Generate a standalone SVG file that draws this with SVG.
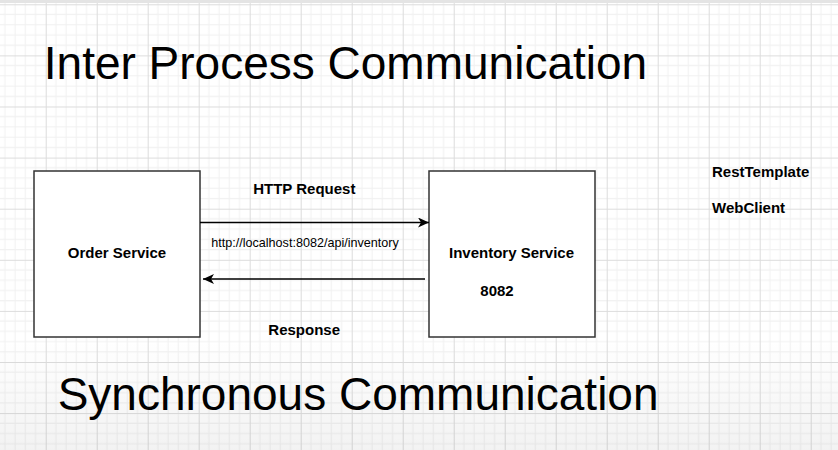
<svg xmlns="http://www.w3.org/2000/svg" width="838" height="450" viewBox="0 0 838 450">
  <defs>
    <pattern id="grid" patternUnits="userSpaceOnUse" x="45.7" y="4.3" width="51" height="51.1">
      <rect width="51" height="51.1" fill="#ffffff"/>
      <g stroke="#f1f1f1" stroke-width="1">
        <line x1="10.2" y1="0" x2="10.2" y2="51.1"/>
        <line x1="20.4" y1="0" x2="20.4" y2="51.1"/>
        <line x1="30.6" y1="0" x2="30.6" y2="51.1"/>
        <line x1="40.8" y1="0" x2="40.8" y2="51.1"/>
        <line x1="0" y1="10.2" x2="51" y2="10.2"/>
        <line x1="0" y1="20.4" x2="51" y2="20.4"/>
        <line x1="0" y1="30.7" x2="51" y2="30.7"/>
        <line x1="0" y1="40.9" x2="51" y2="40.9"/>
      </g>
      <g stroke="#dcdcdc" stroke-width="1">
        <line x1="0.5" y1="0" x2="0.5" y2="51.1"/>
        <line x1="0" y1="0.5" x2="51" y2="0.5"/>
      </g>
    </pattern>
    <linearGradient id="fade" x1="0" y1="0" x2="0" y2="1">
      <stop offset="0" stop-color="#000" stop-opacity="0"/>
      <stop offset="1" stop-color="#000" stop-opacity="0.05"/>
    </linearGradient>
    <marker id="arrow" viewBox="0 0 11 10" refX="11" refY="5" markerWidth="11" markerHeight="10" markerUnits="userSpaceOnUse" orient="auto">
      <path d="M0,0 L11,5 L0,10 L3,5 Z" fill="#000"/>
    </marker>
    <style>
      .title { font-family: "Liberation Sans", Arial, sans-serif; font-size: 46px; fill: #000; }
      .bold { font-family: "Liberation Sans", Arial, sans-serif; font-size: 15px; font-weight: bold; fill: #000; }
      .url { font-family: "Liberation Sans", Arial, sans-serif; font-size: 12.6px; fill: #000; }
      .box { fill: #ffffff; stroke: #333333; stroke-width: 1.5; }
      .conn { stroke: #000; stroke-width: 1.4; fill: none; marker-end: url(#arrow); }
    </style>
  </defs>

  <rect width="838" height="450" fill="url(#grid)"/>
  <rect y="340" width="838" height="110" fill="url(#fade)"/>
  <rect width="838" height="3" fill="#e4e4e4"/>

  <g id="title-top">
    <text class="title" x="43.8" y="79.3">Inter Process Communication</text>
  </g>

  <g id="order-service">
    <rect class="box" x="34" y="171" width="166" height="166"/>
    <text class="bold" x="117" y="257.7" text-anchor="middle">Order Service</text>
  </g>

  <g id="inventory-service">
    <rect class="box" x="429" y="171" width="166" height="166"/>
    <text class="bold" x="511.5" y="257.7" text-anchor="middle">Inventory Service</text>
    <text class="bold" x="497" y="295.7" text-anchor="middle">8082</text>
  </g>

  <g id="connectors">
    <line class="conn" x1="200" y1="222.5" x2="429" y2="222.5"/>
    <line class="conn" x1="425" y1="279" x2="203" y2="279"/>
  </g>

  <g id="labels">
    <text class="bold" x="304.3" y="194" text-anchor="middle">HTTP Request</text>
    <text class="url" x="305" y="247.3" text-anchor="middle">http://localhost:8082/api/inventory</text>
    <text class="bold" x="304.2" y="335" text-anchor="middle">Response</text>
  </g>

  <g id="clients">
    <text class="bold" x="712" y="176.7">RestTemplate</text>
    <text class="bold" x="712" y="212.7">WebClient</text>
  </g>

  <g id="title-bottom">
    <text class="title" x="57.7" y="410">Synchronous Communication</text>
  </g>
</svg>
